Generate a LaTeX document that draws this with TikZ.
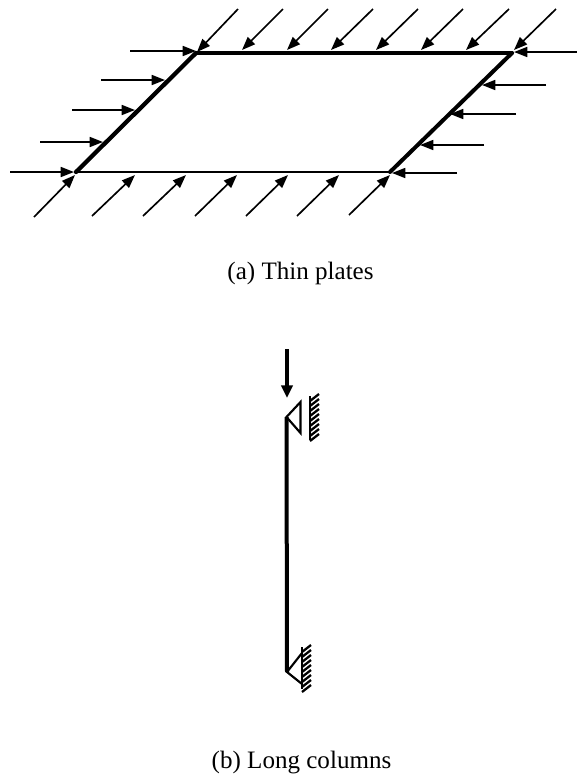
\documentclass[tikz,border=0pt]{standalone}
\usepackage{fontspec}
\setmainfont{Liberation Serif}
\usetikzlibrary{arrows.meta}
\tikzset{
  px/.style={x=0.75pt,y=-0.75pt},
  force/.style={line width=1.25pt,-{Triangle[length=10pt,width=7.5pt]}},
  support/.style={line width=1.6pt,line join=miter},
  hatchline/.style={line width=1.7pt},
  caption/.style={font=\fontsize{18.8pt}{22pt}\selectfont,text=black,inner sep=0pt,anchor=center}
}
\begin{document}
\begin{tikzpicture}[px]
\useasboundingbox (0,0) rectangle (577,776);
\coordinate (bl) at (76,172);
\coordinate (tl) at (196,53);
\coordinate (tr) at (512,53);
\coordinate (br) at (390,172);
\draw[line width=3.2pt,line cap=round] (bl) -- (tl);
\draw[line width=2.8pt,line cap=round] (tl) -- (tr);
\draw[line width=3pt,line cap=round] (tr) -- (br);
\draw[line width=2pt] (br) -- (bl);
\foreach \ax/\ay/\bx/\by in {10/172/74/172,40/142/103/142,72/110/135/110,101/80/165/80,130/51/196/51,
  238/9/197/52,283/9/242/50,328/9/287/50,373/9/331/50,418/9/376/50,463/9/421/50,509/9/466/50,556/9/514/50,
  34/217/75/175,92/216/135/175,143/216/186/175,195/216/237/175,246/216/288/175,297/216/339/175,349/215/390/175,
  577/52/514/52,546/85/482/85,516/114/450/114,484/145/420/145,457/173/392/173}{
  \coordinate (s) at (\ax,\ay);
  \coordinate (e) at (\bx,\by);
  \draw[force] (s) -- (e);
}
\node[caption] (capa) at (300.5,273) {(a) Thin plates};
\node[caption] (capb) at (301.5,762) {(b) Long columns};
% column
\coordinate (ctop) at (286.5,417);
\coordinate (cbot) at (287,672);
\draw[line width=3pt] (ctop) -- (cbot);
\coordinate (ps) at (287,349);
\coordinate (pe) at (287,398);
\draw[line width=3pt,-{Triangle[length=9.5pt,width=8.5pt]}] (ps) -- (pe);
% upper support
\coordinate (ua) at (300.5,402);
\coordinate (ub) at (300.5,433);
\draw[support] (ub) -- (ua) -- (ctop) -- cycle;
\coordinate (wa) at (310,396);
\coordinate (wb) at (310,440);
\draw[line width=2pt] (wa) -- (wb);
\foreach \y in {401,406,...,441}{
  \coordinate (ha) at (310,\y);
  \coordinate (hb) at (319,\y-7);
  \draw[hatchline] (ha) -- (hb);
}
% lower support
\coordinate (la) at (302,653);
\coordinate (lb) at (302,684);
\draw[support] (la) -- (cbot) -- (lb);
\coordinate (wc) at (302,647);
\coordinate (wd) at (302,689);
\draw[line width=1.6pt] (wc) -- (wd);
\foreach \y in {652,657,...,692}{
  \coordinate (hc) at (302,\y);
  \coordinate (hd) at (311,\y-7);
  \draw[hatchline] (hc) -- (hd);
}
\end{tikzpicture}
\end{document}
